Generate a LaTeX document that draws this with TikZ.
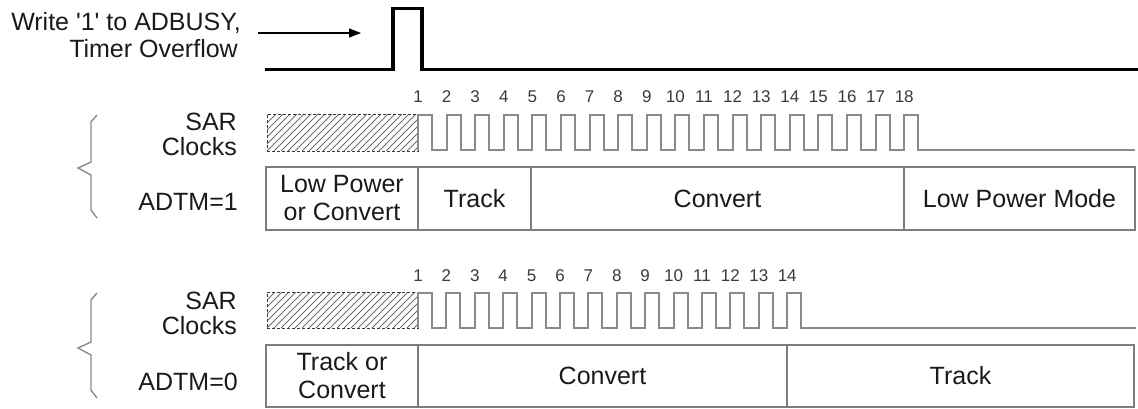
\documentclass[tikz,border=0pt]{standalone}
\usepackage{fontspec}
\setmainfont{Liberation Sans}
\usetikzlibrary{arrows.meta}
\definecolor{wave}{HTML}{8A8A8A}
\definecolor{boxc}{HTML}{7D7D7D}
\definecolor{txt}{HTML}{1A1A1A}
\definecolor{num}{HTML}{3A3A3A}
\definecolor{hatchc}{HTML}{6E6E6E}
\newcommand\sqt{\XeTeXglyph\XeTeXcharglyph"0027\relax}
\begin{document}
\begin{tikzpicture}[x=1pt,y=-1pt,
  lbl/.style={font=\fontsize{25}{28}\selectfont, text=txt, inner sep=0pt},
  seg/.style={draw=boxc, line width=1.6pt, align=center, inner sep=0pt,
              font=\fontsize{25}{28}\selectfont, text=txt},
  hatchbox/.style={draw=num, densely dashed, line width=0.7pt, inner sep=0pt},
  hatchl/.style={draw=hatchc, line width=0.9pt},
  clk/.style={draw=wave, line width=1.9pt, line join=miter},
  bracel/.style={draw=wave, line width=1.4pt},
  pulse/.style={draw=black, line width=3.5pt, line join=miter},
  numlbl/.style={font=\fontsize{17}{19}\selectfont, text=num, inner sep=0pt}
]
\useasboundingbox (0,0) rectangle (1138,409);

% ---- trigger ----
\node[lbl, anchor=base east] (wr1) at (241,31) {Write \sqt1\sqt\ to ADBUSY,};
\node[lbl, anchor=base east] (wr2) at (238,58) {Timer Overflow};
\coordinate (as) at (258,33);
\coordinate (ae) at (361,33);
\draw[line width=1.2pt, -{Triangle[length=12pt,width=9pt]}] (as) -- (ae);
\draw[pulse] (265,69.5) -- (393,69.5) -- (393,8.5) -- (422,8.5) -- (422,69.5) -- (1138,69.5);

% ---- ADTM=1 ----
\draw[bracel] (97,115) -- (91,122) -- (91,162) -- (78,168) -- (91,175) -- (91,210) -- (97,218);
\node[lbl, anchor=east] (sar1) at (237,121.5) {SAR};
\node[lbl, anchor=east] (clk1) at (237,146.5) {Clocks};
\node[lbl, anchor=east] (adtm1) at (238,202) {ADTM=1};
\begin{scope}
  \clip (267,114) rectangle (418,151);
  \foreach \i in {-6,...,22} \draw[hatchl] ({267+\i*7},151) -- ({267+\i*7+37},114);
\end{scope}
\node[hatchbox, minimum width=151pt, minimum height=37pt] (h1) at (342.5,132.5) {};
\draw[clk] (418,150) \foreach \k in {0,...,17}{
   -- ({418+\k*28.6},150) -- ({418+\k*28.6},115) -- ({432+\k*28.6},115) -- ({432+\k*28.6},150)}
   -- (1135,150);
\foreach \k in {1,...,18}{
  \node[numlbl] (na\k) at ({418+(\k-1)*28.6},97) {\k};
}
\node[seg, minimum width=152pt, minimum height=63pt] (a1) at (342,198.5) {Low Power\\or Convert};
\node[seg, minimum width=113pt, minimum height=63pt] (a2) at (474.5,198.5) {Track};
\node[seg, minimum width=373pt, minimum height=63pt] (a3) at (717.5,198.5) {Convert};
\node[seg, minimum width=231pt, minimum height=63pt] (a4) at (1019.5,198.5) {Low Power Mode};

% ---- ADTM=0 ----
\draw[bracel] (97,293) -- (91,300) -- (91,342) -- (78,348) -- (91,355) -- (91,390) -- (97,398);
\node[lbl, anchor=east] (sar2) at (237,300.5) {SAR};
\node[lbl, anchor=east] (clk2) at (237,325.5) {Clocks};
\node[lbl, anchor=east] (adtm0) at (238,382) {ADTM=0};
\begin{scope}
  \clip (267,292) rectangle (418,328);
  \foreach \i in {-6,...,22} \draw[hatchl] ({267+\i*7},328) -- ({267+\i*7+36},292);
\end{scope}
\node[hatchbox, minimum width=151pt, minimum height=36pt] (h2) at (342.5,310) {};
\draw[clk] (418,328) \foreach \k in {0,...,13}{
   -- ({418+\k*28.4},328) -- ({418+\k*28.4},293) -- ({432+\k*28.4},293) -- ({432+\k*28.4},328)}
   -- (1136,328);
\foreach \k in {1,...,14}{
  \node[numlbl] (nb\k) at ({418+(\k-1)*28.4},276) {\k};
}
\node[seg, minimum width=152pt, minimum height=62pt] (b1) at (342,376) {Track or\\Convert};
\node[seg, minimum width=369pt, minimum height=62pt] (b2) at (602.5,376) {Convert};
\node[seg, minimum width=347pt, minimum height=62pt] (b3) at (960.5,376) {Track};
\end{tikzpicture}
\end{document}
